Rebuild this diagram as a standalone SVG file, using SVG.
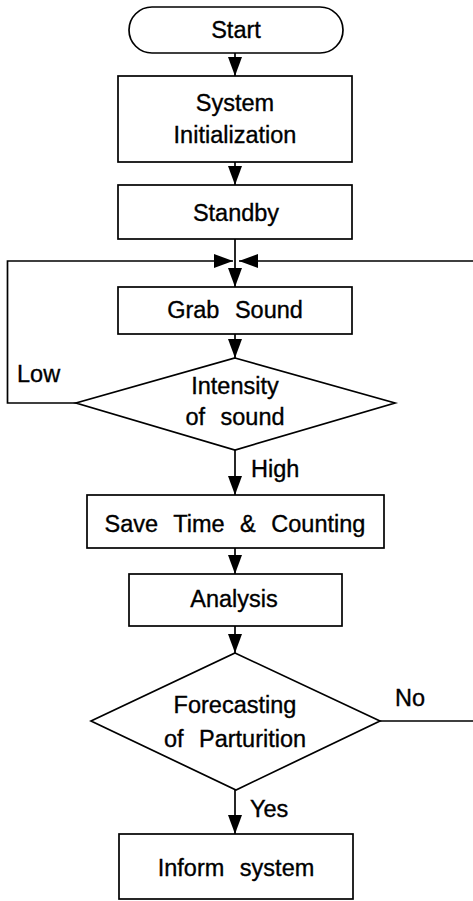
<svg xmlns="http://www.w3.org/2000/svg" width="473" height="901" viewBox="0 0 473 901">
<style>
.shape{fill:#fff;stroke:#000;stroke-width:1.7}
.lbl{font-family:"Liberation Sans",Arial,sans-serif;font-size:23.5px;fill:#000;stroke:#000;stroke-width:0.35;text-anchor:middle;word-spacing:9px}
.side{font-family:"Liberation Sans",Arial,sans-serif;font-size:23.5px;fill:#000;stroke:#000;stroke-width:0.35}
.conn{fill:none;stroke:#000;stroke-width:1.7}
</style>
<defs>
<marker id="ah" markerUnits="userSpaceOnUse" markerWidth="19" markerHeight="14" refX="19" refY="7" orient="auto">
<path d="M0,0 L19,7 L0,14 z" fill="#000"/>
</marker>
</defs>
<rect width="473" height="901" fill="#fff"/>
<g id="connectors">
<path class="conn" d="M235,53 V76" marker-end="url(#ah)"/>
<path class="conn" d="M235,162 V185" marker-end="url(#ah)"/>
<path class="conn" d="M235,239 V287" marker-end="url(#ah)"/>
<path class="conn" d="M235,334 V358" marker-end="url(#ah)"/>
<path class="conn" d="M235,450 V495" marker-end="url(#ah)"/>
<path class="conn" d="M235,548 V574" marker-end="url(#ah)"/>
<path class="conn" d="M235,626 V653" marker-end="url(#ah)"/>
<path class="conn" d="M235,790 V834" marker-end="url(#ah)"/>
<path class="conn" d="M76,403 H7.5 V261 H233" marker-end="url(#ah)"/>
<path class="conn" d="M380,721 H476 V261 H239" marker-end="url(#ah)"/>
<text class="side" x="17" y="382">Low</text>
<text class="side" x="251" y="477">High</text>
<text class="side" x="395" y="706">No</text>
<text class="side" x="250" y="817">Yes</text>
</g>
<g id="start">
<rect class="shape" x="129" y="7" width="214" height="46" rx="23" ry="23"/>
<text class="lbl" x="236" y="38">Start</text>
</g>
<g id="init">
<rect class="shape" x="118" y="76" width="234" height="86"/>
<text class="lbl" x="235" y="111">System</text>
<text class="lbl" x="235" y="143">Initialization</text>
</g>
<g id="standby">
<rect class="shape" x="118" y="185" width="234" height="54"/>
<text class="lbl" x="236" y="221">Standby</text>
</g>
<g id="grab">
<rect class="shape" x="118" y="287" width="234" height="47"/>
<text class="lbl" x="235" y="318">Grab Sound</text>
</g>
<g id="intensity">
<polygon class="shape" points="235,358 395,403 235,450 76,403"/>
<text class="lbl" x="235" y="394">Intensity</text>
<text class="lbl" x="235" y="425">of sound</text>
</g>
<g id="save">
<rect class="shape" x="87" y="495" width="297" height="53"/>
<text class="lbl" x="235" y="532">Save Time &amp; Counting</text>
</g>
<g id="analysis">
<rect class="shape" x="129" y="574" width="213" height="52"/>
<text class="lbl" x="234" y="607">Analysis</text>
</g>
<g id="forecast">
<polygon class="shape" points="235,653 380,721 236,790 91,721"/>
<text class="lbl" x="235" y="713">Forecasting</text>
<text class="lbl" x="235" y="747">of Parturition</text>
</g>
<g id="inform">
<rect class="shape" x="119" y="834" width="234" height="65"/>
<text class="lbl" x="236" y="876">Inform system</text>
</g>
</svg>
